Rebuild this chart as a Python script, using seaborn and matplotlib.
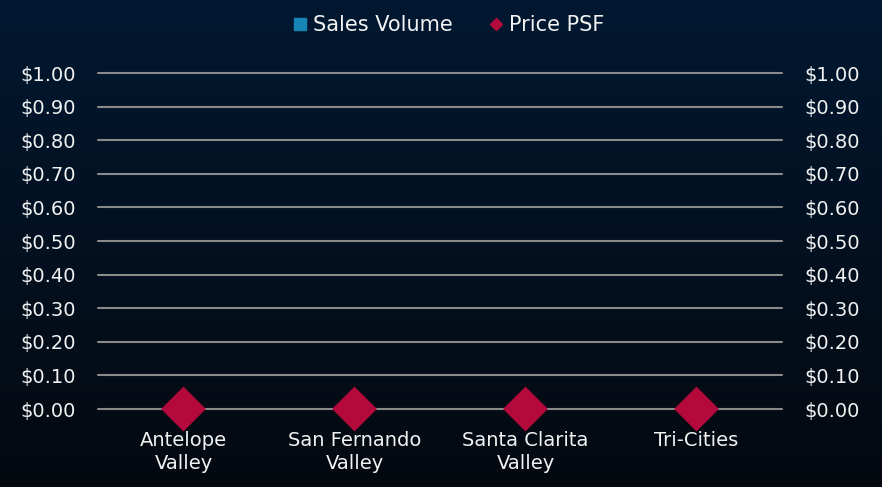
import numpy as np
import pandas as pd
import matplotlib
matplotlib.use("Agg")
import matplotlib.pyplot as plt
from matplotlib.lines import Line2D
import seaborn as sns

# data
regions = ["Antelope\nValley", "San Fernando\nValley", "Santa Clarita\nValley", "Tri-Cities"]
sales_volume = [0, 0, 0, 0]
price_psf = [0.0, 0.0, 0.0, 0.0]
y_ticks = [0.0, 0.1, 0.2, 0.3, 0.4, 0.5, 0.6, 0.7, 0.8, 0.9, 1.0]

BLUE = "#1784b6"
RED = "#b4093b"
GRID = "#8a8a8a"
TXT = "#f2f2f2"

sns.set_theme(style="white")
plt.rcParams["font.family"] = ["DejaVu Sans"]

df = pd.DataFrame({"region": regions, "sales": sales_volume, "psf": price_psf})

fig = plt.figure(figsize=(8.82, 4.87), dpi=100)

# gradient background
bg = fig.add_axes([0, 0, 1, 1], zorder=-10)
top = np.array([0x01, 0x18, 0x31]) / 255
bot = np.array([0x05, 0x09, 0x10]) / 255
t = np.linspace(0, 1, 256)[:, None]
grad = top * (1 - t) + bot * t
bg.imshow(grad[:, None, :].repeat(2, axis=1), aspect="auto", extent=[0, 1, 0, 1])
bg.set_axis_off()

ax = fig.add_axes([98 / 882, 1 - 409 / 487, 684 / 882, 336 / 487])
ax.set_facecolor("none")
sns.barplot(data=df, x="region", y="sales", color=BLUE, ax=ax, width=0.5,
            linewidth=0, edgecolor="none")
ax.set_ylim(0, 1)
ax.set_xlim(-0.5, 3.5)
ax.set_yticks(y_ticks)
ax.set_yticklabels([f"${v:.2f}" for v in y_ticks])
ax.grid(axis="y", color=GRID, linewidth=1.5)
ax.set_axisbelow(True)
for gl in ax.get_ygridlines():
    gl.set_clip_on(False)
for s in ax.spines.values():
    s.set_visible(False)
ax.set_xlabel("")
ax.set_ylabel("")
ax.tick_params(axis="y", length=0, pad=16, labelsize=14, labelcolor=TXT)
ax.tick_params(axis="x", length=0, pad=16, labelsize=14, labelcolor=TXT)
for lbl in ax.get_xticklabels():
    lbl.set_linespacing(1.25)

ax2 = ax.twinx()
ax2.set_facecolor("none")
sns.scatterplot(data=df, x="region", y="psf", marker="D", s=27 ** 2 / 1.4,
                color=RED, edgecolor="none", ax=ax2, clip_on=False, zorder=5)
ax2.set_ylim(0, 1)
ax2.set_xlim(-0.5, 3.5)
ax2.set_yticks(y_ticks)
ax2.set_yticklabels([f"${v:.2f}" for v in y_ticks])
for s in ax2.spines.values():
    s.set_visible(False)
ax2.set_ylabel("")
ax2.tick_params(axis="y", length=0, pad=16, labelsize=14, labelcolor=TXT)

handles = [
    Line2D([], [], marker="s", linestyle="none", color=BLUE, markersize=8),
    Line2D([], [], marker="D", linestyle="none", color=RED, markersize=6),
]
fig.legend(handles, ["Sales Volume", "Price PSF"], loc="upper center",
           bbox_to_anchor=(0.507, 1.008), ncol=2, frameon=False, fontsize=15,
           labelcolor=TXT, handletextpad=0.1, columnspacing=1.6, handlelength=1.0)

fig.savefig("out.png", dpi=100)
